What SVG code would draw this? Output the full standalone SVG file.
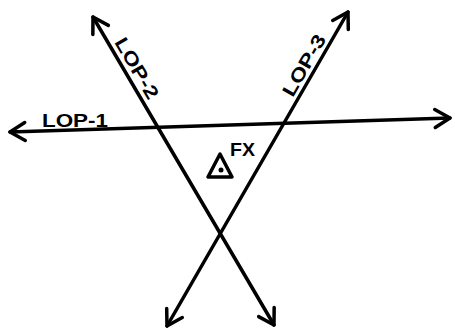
<svg xmlns="http://www.w3.org/2000/svg" width="455" height="331" viewBox="0 0 455 331">
<style>
.lop{fill:none;stroke:#000;stroke-width:3.5;stroke-linecap:round;marker-start:url(#ah);marker-end:url(#ah)}
.lbl{font-family:"Liberation Sans",Arial,sans-serif;font-weight:bold;font-size:19px;fill:#000}
</style>
<defs>
<marker id="ah" markerUnits="userSpaceOnUse" markerWidth="40" markerHeight="40" refX="0" refY="0" viewBox="-20 -20 40 40" orient="auto-start-reverse" overflow="visible">
<path d="M-15,-9 L0,0 L-15,9" fill="none" stroke="#000" stroke-width="3.5" stroke-linecap="round" stroke-linejoin="round"/>
</marker>
</defs>
<rect width="455" height="331" fill="#fff"/>
<g id="connectors">
<line id="lop1-line" class="lop" x1="10" y1="132" x2="450" y2="118"/>
<line id="lop2-line" class="lop" x1="93" y1="17" x2="274" y2="325"/>
<line id="lop3-line" class="lop" x1="348" y1="12" x2="167" y2="326"/>
</g>
<g id="lop1-label">
<text class="lbl" x="42" y="127" textLength="66" lengthAdjust="spacingAndGlyphs">LOP-1</text>
</g>
<g id="lop2-label" transform="translate(127,74) rotate(59.5)">
<text class="lbl" x="0" y="-5" text-anchor="middle" textLength="68" lengthAdjust="spacingAndGlyphs">LOP-2</text>
</g>
<g id="lop3-label" transform="translate(314,71) rotate(-60)">
<text class="lbl" x="0" y="-5" text-anchor="middle" textLength="68" lengthAdjust="spacingAndGlyphs">LOP-3</text>
</g>
<g id="fix">
<polygon points="220,154 208,177 232,177" fill="none" stroke="#000" stroke-width="3.5" stroke-linejoin="round"/>
<circle cx="221" cy="170" r="2.5" fill="#000"/>
<text class="lbl" x="230" y="156" textLength="25" lengthAdjust="spacingAndGlyphs">FX</text>
</g>
</svg>
